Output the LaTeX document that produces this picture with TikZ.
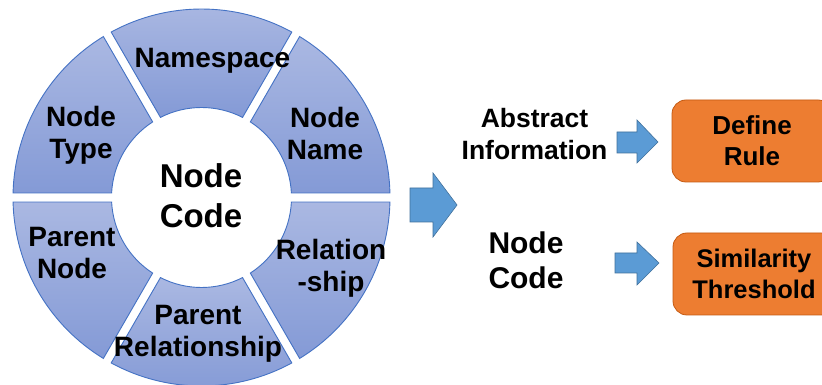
\documentclass[tikz,border=0pt]{standalone}
\usepackage{fontspec}
\setmainfont{Liberation Sans}
\usetikzlibrary{calc}

\definecolor{segline}{RGB}{68,114,196}
\definecolor{seglight}{RGB}{170,184,226}
\definecolor{segdark}{RGB}{132,154,214}
\definecolor{arrowfill}{RGB}{91,155,213}
\definecolor{arrowline}{RGB}{65,113,156}
\definecolor{boxfill}{RGB}{237,125,49}
\definecolor{boxline}{RGB}{197,90,17}

\tikzset{
  segment/.style={draw=segline, line width=0.9pt, top color=seglight, bottom color=segdark},
  seglabel/.style={font=\fontsize{28}{32}\selectfont\bfseries, align=center, inner sep=0pt},
  hublabel/.style={font=\fontsize{33}{40}\selectfont\bfseries, align=center, inner sep=0pt},
  sidelabel/.style={font=\fontsize{26.5}{32}\selectfont\bfseries, align=center, inner sep=0pt},
  blockarrow/.style={fill=arrowfill, draw=arrowline, line width=0.6pt},
  rulebox/.style={fill=boxfill, draw=boxline, line width=0.8pt, rounded corners=14pt,
    font=\fontsize{26}{31}\selectfont\bfseries, align=center}
}

% one sector of the ring between angles #1 and #2, leaving a gap of constant width
\newcommand\ringsector[2]{%
  \path[segment] ($(C)+({#1+1.37}:188.5)$)
    arc[start angle={#1+1.37}, end angle={#2-1.37}, radius=188.5]
    -- ($(C)+({#2-2.87}:90)$)
    arc[start angle={#2-2.87}, end angle={#1+2.87}, radius=90]
    -- cycle;}

\begin{document}
\begin{tikzpicture}[x=1pt,y=1pt]
  \clip (0,0) rectangle (822,385);
  \fill[white] (0,0) rectangle (822,385);

  \coordinate (C) at (201.5,187.5);

  % ring of six sectors
  \ringsector{0}{60}
  \ringsector{60}{120}
  \ringsector{120}{180}
  \ringsector{180}{240}
  \ringsector{240}{300}
  \ringsector{300}{360}

  \node[seglabel] (ns)    at (212.5,324)  {Namespace};
  \node[seglabel] (nname) at (325,252)    {Node\\Name};
  \node[seglabel] (ntype) at (81,249.5)   {Node\\Type};
  \node[seglabel] (pnode) at (72,131.5)   {Parent\\Node};
  \node[seglabel] (rel)   at (331,116.5)  {Relation\\-ship};
  \node[seglabel] (prel)  at (198,51.5)   {Parent\\Relationship};
  \node[hublabel] (hub)   at (201,189)    {Node\\Code};

  % large arrow leaving the ring
  \coordinate (bigA) at (410,180);
  \path[blockarrow] (bigA) ++(0,17) -- ++(23,0) -- ++(0,15) -- (457,180)
    -- (433,148) -- ++(0,15) -- ++(-23,0) -- cycle;

  % outcomes
  \node[sidelabel] (abs)  at (534.5,250.5) {Abstract\\Information};
  \node[sidelabel, font=\fontsize{30}{35}\selectfont\bfseries] (code) at (526,124.5) {Node\\Code};

  \node[rulebox, minimum width=160pt, minimum height=82pt] (rule) at (752,244) {Define\\Rule};
  \node[rulebox, minimum width=162pt, minimum height=82pt,
        font=\fontsize{25.5}{31}\selectfont\bfseries] (sim) at (754,111) {Similarity\\Threshold};

  % small arrows
  \path[blockarrow] (617,253) -- (637,253) -- (637,265) -- (658,243)
    -- (637,222) -- (637,232) -- (617,232) -- cycle;
  \path[blockarrow] (615,132) -- (637,132) -- (637,143) -- (659,122)
    -- (637,100) -- (637,112) -- (615,112) -- cycle;
\end{tikzpicture}
\end{document}
